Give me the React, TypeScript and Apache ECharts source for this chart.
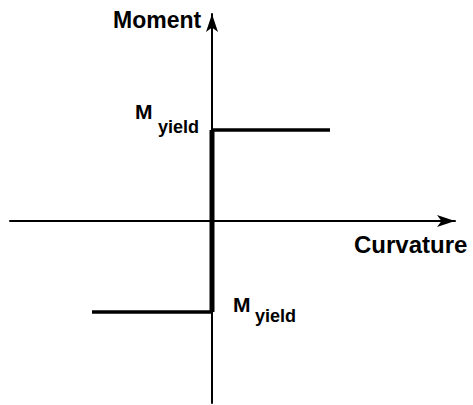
import React, { useEffect, useRef } from "react";
import * as echarts from "echarts";

// Moment–curvature idealisation (rigid–perfectly plastic)
const upperCurvature = [0, 1.18];
const upperMoment = [1, 1];
const elasticCurvature = [0, 0];
const elasticMoment = [-1, 1];
const lowerCurvature = [-1.2, 0];
const lowerMoment = [-1, -1];

const xRange = [-2.02, 2.43];
const yRange = [-2.0, 2.275];

const axisTitles = { x: "Curvature", y: "Moment" };
const yieldLabel = { main: "M", sub: "yield" };

const pairs = (xs: number[], ys: number[]) => xs.map((x, i) => [x, ys[i]]);

export default function App() {
  const ref = useRef<HTMLDivElement>(null);
  useEffect(() => {
    if (!ref.current) return;
    const chart = echarts.init(ref.current, undefined, { renderer: "svg" });
    const font = "'Liberation Sans', Arial, sans-serif";
    const axisCommon = {
      type: "value" as const,
      axisLine: {
        show: true,
        onZero: true,
        symbol: ["none", "arrow"],
        symbolSize: [9, 18],
        lineStyle: { color: "#000", width: 2 },
      },
      axisTick: { show: false },
      axisLabel: { show: false },
      splitLine: { show: false },
    };
    chart.setOption({
      animation: false,
      backgroundColor: "#fff",
      grid: { left: 10, right: 18, top: 14, bottom: 2, containLabel: false },
      xAxis: { ...axisCommon, min: xRange[0], max: xRange[1] },
      yAxis: { ...axisCommon, min: yRange[0], max: yRange[1] },
      series: [
        {
          type: "line",
          data: pairs(upperCurvature, upperMoment),
          symbol: "none",
          lineStyle: { color: "#000", width: 3.5 },
        },
        {
          type: "line",
          data: pairs(lowerCurvature, lowerMoment),
          symbol: "none",
          lineStyle: { color: "#000", width: 3.5 },
        },
        {
          type: "line",
          data: pairs(elasticCurvature, elasticMoment),
          symbol: "none",
          lineStyle: { color: "#000", width: 5 },
        },
      ],
      graphic: [
        {
          type: "text",
          left: 113,
          top: 8,
          style: { text: axisTitles.y, font: `bold 23px ${font}`, fill: "#000" },
        },
        {
          type: "text",
          left: 354,
          top: 232,
          style: { text: axisTitles.x, font: `bold 24px ${font}`, fill: "#000" },
        },
        {
          type: "text",
          left: 135,
          top: 101,
          style: { text: yieldLabel.main, font: `bold 21px ${font}`, fill: "#000" },
        },
        {
          type: "text",
          left: 158,
          top: 118,
          style: { text: yieldLabel.sub, font: `bold 18px ${font}`, fill: "#000" },
        },
        {
          type: "text",
          left: 233,
          top: 294,
          style: { text: yieldLabel.main, font: `bold 21px ${font}`, fill: "#000" },
        },
        {
          type: "text",
          left: 255,
          top: 307,
          style: { text: yieldLabel.sub, font: `bold 18px ${font}`, fill: "#000" },
        },
      ],
    });
    return () => chart.dispose();
  }, []);
  return <div ref={ref} style={{ width: 473, height: 405, position: "absolute", left: 0, top: 0 }} />;
}
